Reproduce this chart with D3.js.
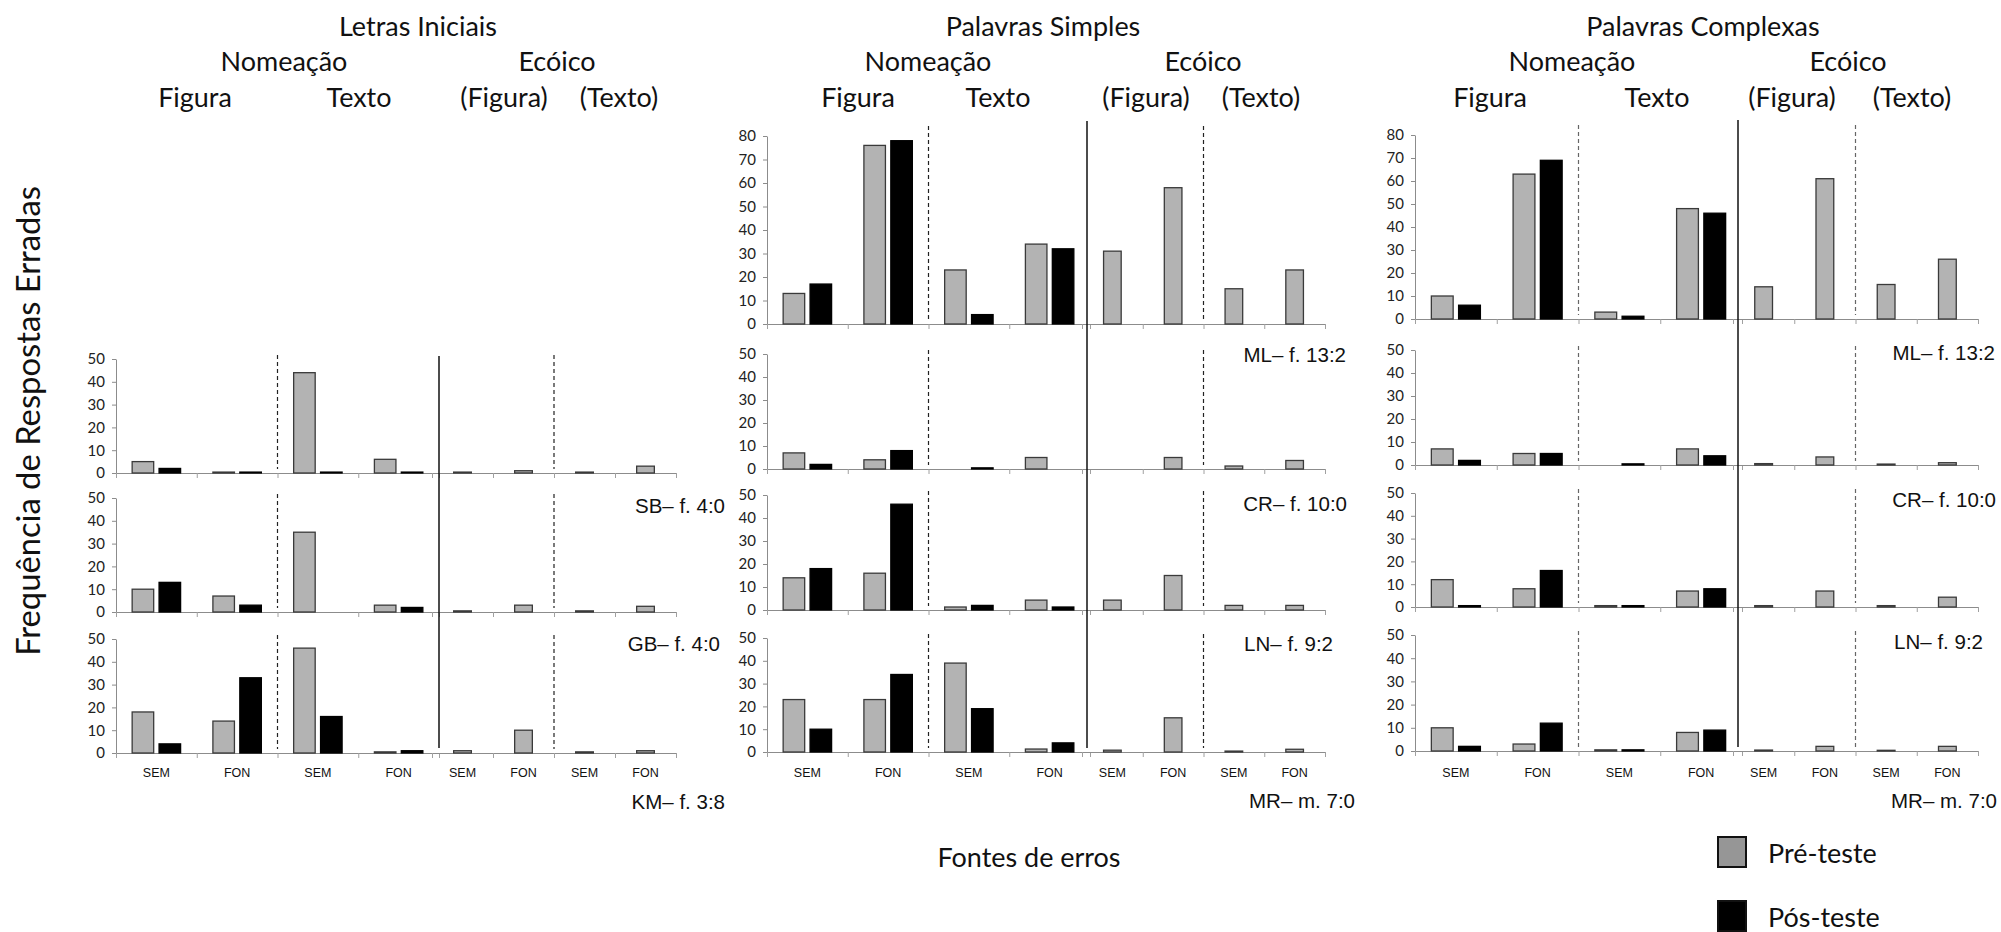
<!DOCTYPE html>
<html><head><meta charset="utf-8">
<script src="https://cdn.jsdelivr.net/npm/d3@7"></script>
<style>body{margin:0;background:#fff}svg{display:block}</style>
</head><body>
<svg id="c" width="2001" height="932"></svg>
<script>
// ---------- DATA ----------
const nomCats = ["SEM", "FON", "SEM", "FON"];   // Nomeação: Figura SEM/FON, Texto SEM/FON
const ecoCats = ["SEM", "FON", "SEM", "FON"];   // Ecóico: (Figura) SEM/FON, (Texto) SEM/FON
const series = ["Pré-teste", "Pós-teste"];
const panelTitles = ["Letras Iniciais", "Palavras Simples", "Palavras Complexas"];
const groupTitles = ["Nomeação", "Ecóico"];
const subTitles = ["Figura", "Texto", "(Figura)", "(Texto)"];
const xTitle = "Fontes de erros";
const yTitle = "Frequência de Respostas Erradas";

// Letras Iniciais
const LI_SB_pre = [5, 0.4, 44, 6];
const LI_SB_pos = [2, 0.4, 0.4, 0.4];
const LI_SB_eco = [0.4, 1, 0.4, 3];
const LI_GB_pre = [10, 7, 35, 3];
const LI_GB_pos = [13, 3, 0, 2];
const LI_GB_eco = [0.5, 3, 0.5, 2.5];
const LI_KM_pre = [18, 14, 46, 0.5];
const LI_KM_pos = [4, 33, 16, 1];
const LI_KM_eco = [1, 10, 0.5, 1];
// Palavras Simples
const PS_ML_pre = [13, 76, 23, 34];
const PS_ML_pos = [17, 78, 4, 32];
const PS_ML_eco = [31, 58, 15, 23];
const PS_CR_pre = [7, 4, 0, 5];
const PS_CR_pos = [2, 8, 0.5, 0];
const PS_CR_eco = [0, 5, 1.3, 3.7];
const PS_LN_pre = [14, 16, 1.3, 4.3];
const PS_LN_pos = [18, 46, 2, 1.3];
const PS_LN_eco = [4.3, 15, 2, 2];
const PS_MR_pre = [23, 23, 39, 1.3];
const PS_MR_pos = [10, 34, 19, 4];
const PS_MR_eco = [0.8, 15, 0.4, 1.2];
// Palavras Complexas
const PC_ML_pre = [10, 63, 3, 48];
const PC_ML_pos = [6, 69, 1.2, 46];
const PC_ML_eco = [14, 61, 15, 26];
const PC_CR_pre = [7, 5, 0, 7];
const PC_CR_pos = [2, 5, 0.5, 4];
const PC_CR_eco = [0.6, 3.5, 0.4, 1];
const PC_LN_pre = [12, 8, 0.6, 7];
const PC_LN_pos = [0.6, 16, 0.6, 8];
const PC_LN_eco = [0.6, 7, 0.6, 4.3];
const PC_MR_pre = [10, 3, 0.5, 8];
const PC_MR_pos = [2, 12, 0.5, 9];
const PC_MR_eco = [0.4, 2, 0.3, 2];

// ---------- LAYOUT ----------
const panels = [
  { x0: 116, nomEnd: 439, eco0: 432, eco1: 676, solid: [439, 356, 748], dash: "#222",
    heads: [[418, 25], [284, 60], [557, 60], [195, 96], [359, 96], [504, 96], [619, 96]],
    rows: [
      { max: 50, top: 359, zero: 473, label: "SB– f. 4:0", lx: 725, ly: 505, pre: LI_SB_pre, pos: LI_SB_pos, eco: LI_SB_eco },
      { max: 50, top: 498, zero: 612, label: "GB– f. 4:0", lx: 720, ly: 643, pre: LI_GB_pre, pos: LI_GB_pos, eco: LI_GB_eco },
      { max: 50, top: 639, zero: 753, label: "KM– f. 3:8", lx: 725, ly: 801, pre: LI_KM_pre, pos: LI_KM_pos, eco: LI_KM_eco }
    ] },
  { x0: 767, nomEnd: 1090, eco0: 1082, eco1: 1325, solid: [1087, 121, 748], dash: "#222",
    heads: [[1043, 25], [928, 60], [1203, 60], [858, 96], [998, 96], [1146, 96], [1261, 96]],
    rows: [
      { max: 80, top: 136, zero: 324, label: "ML– f. 13:2", lx: 1346, ly: 354, pre: PS_ML_pre, pos: PS_ML_pos, eco: PS_ML_eco },
      { max: 50, top: 354, zero: 469, label: "CR– f. 10:0", lx: 1347, ly: 503, pre: PS_CR_pre, pos: PS_CR_pos, eco: PS_CR_eco },
      { max: 50, top: 495, zero: 610, label: "LN– f. 9:2", lx: 1333, ly: 643, pre: PS_LN_pre, pos: PS_LN_pos, eco: PS_LN_eco },
      { max: 50, top: 638, zero: 752, label: "MR– m. 7:0", lx: 1355, ly: 800, pre: PS_MR_pre, pos: PS_MR_pos, eco: PS_MR_eco }
    ] },
  { x0: 1415, nomEnd: 1742, eco0: 1733, eco1: 1978, solid: [1738, 120, 747], dash: "#666",
    heads: [[1703, 25], [1572, 60], [1848, 60], [1490, 96], [1657, 96], [1792, 96], [1912, 96]],
    rows: [
      { max: 80, top: 135, zero: 319, label: "ML– f. 13:2", lx: 1995, ly: 352, pre: PC_ML_pre, pos: PC_ML_pos, eco: PC_ML_eco },
      { max: 50, top: 350, zero: 465, label: "CR– f. 10:0", lx: 1996, ly: 499, pre: PC_CR_pre, pos: PC_CR_pos, eco: PC_CR_eco },
      { max: 50, top: 493, zero: 607, label: "LN– f. 9:2", lx: 1983, ly: 641, pre: PC_LN_pre, pos: PC_LN_pos, eco: PC_LN_eco },
      { max: 50, top: 635, zero: 751, label: "MR– m. 7:0", lx: 1997, ly: 800, pre: PC_MR_pre, pos: PC_MR_pos, eco: PC_MR_eco }
    ] }
];

const BIG = "Lato, 'Open Sans', sans-serif";
const ARIAL = "'Liberation Sans', Arial, sans-serif";
const fillOf = { "Pré-teste": "#b3b3b3", "Pós-teste": "#000000" };
const strokeOf = { "Pré-teste": "#3a3a3a", "Pós-teste": "#000000" };

const svg = d3.select("#c");

function fitSize(text, target, family) {
  const t = svg.append("text").attr("font-family", family).attr("font-size", 100).text(text);
  const w = t.node().getComputedTextLength();
  t.remove();
  return 100 * target / w;
}
const bigSize = fitSize(panelTitles[0], 158, BIG);

const headTexts = (i) => [panelTitles[i], groupTitles[0], groupTitles[1], ...subTitles];

panels.forEach((p, pi) => {
  const g = svg.append("g");
  // headers
  headTexts(pi).forEach((t, k) => {
    g.append("text").attr("x", p.heads[k][0]).attr("y", p.heads[k][1])
      .attr("text-anchor", "middle").attr("dominant-baseline", "central")
      .attr("font-family", BIG).attr("font-size", bigSize).attr("fill", "#111").text(t);
  });

  const xN = d3.scaleBand().domain(d3.range(nomCats.length)).range([p.x0, p.nomEnd]).paddingInner(0.4).paddingOuter(0.2);
  const xS = d3.scaleBand().domain(series).range([0, xN.bandwidth()]).paddingInner(0.2);
  const xE = d3.scaleBand().domain(d3.range(ecoCats.length)).range([p.eco0, p.eco1]).paddingInner(0.71).paddingOuter(0.355);
  const xNb = d3.scaleLinear().domain([0, nomCats.length]).range([p.x0, p.nomEnd]);
  const xEb = d3.scaleLinear().domain([0, ecoCats.length]).range([p.eco0, p.eco1]);

  p.rows.forEach((r, ri) => {
    const y = d3.scaleLinear().domain([0, r.max]).range([r.zero, r.top]);
    const rg = g.append("g");

    // y axis
    const ya = rg.append("g").attr("transform", `translate(${p.x0},0)`)
      .call(d3.axisLeft(y).tickValues(d3.range(0, r.max + 1, 10)).tickSize(4).tickPadding(7).tickSizeOuter(0));
    ya.select(".domain").attr("stroke", "#8c8c8c");
    ya.selectAll(".tick line").attr("stroke", "#8c8c8c");
    ya.selectAll(".tick text").attr("font-family", BIG).attr("font-size", 15).attr("fill", "#222");

    // x axes (boundaries)
    [[xNb, nomCats.length], [xEb, ecoCats.length]].forEach(([sc, n]) => {
      const xa = rg.append("g").attr("transform", `translate(0,${r.zero})`)
        .call(d3.axisBottom(sc).tickValues(d3.range(0, n + 1)).tickFormat("").tickSize(5).tickSizeOuter(0));
      xa.select(".domain").attr("stroke", "#8c8c8c");
      xa.selectAll(".tick line").attr("stroke", "#a0a0a0");
    });

    // dashed separators
    const dTop = r.top - (r.max > 50 ? 10 : 4);
    [xNb(2), xEb(2)].forEach(xx => {
      rg.append("line").attr("x1", xx).attr("x2", xx).attr("y1", dTop).attr("y2", r.zero - 4)
        .attr("stroke", p.dash).attr("stroke-width", 1.2).attr("stroke-dasharray", "4,3");
    });

    // nomeação bars
    const nomData = [];
    nomCats.forEach((c, i) => {
      nomData.push({ i, s: series[0], v: r.pre[i] });
      nomData.push({ i, s: series[1], v: r.pos[i] });
    });
    rg.selectAll("rect.nb").data(nomData.filter(d => d.v > 0)).join("rect").attr("class", "nb")
      .attr("x", d => xN(d.i) + xS(d.s)).attr("width", xS.bandwidth())
      .attr("y", d => y(d.v)).attr("height", d => r.zero - y(d.v))
      .attr("fill", d => fillOf[d.s]).attr("stroke", d => strokeOf[d.s]).attr("stroke-width", 1.3);

    // ecóico bars (pré-teste only)
    rg.selectAll("rect.eb").data(r.eco.map((v, i) => ({ i, v })).filter(d => d.v > 0)).join("rect").attr("class", "eb")
      .attr("x", d => xE(d.i)).attr("width", xE.bandwidth())
      .attr("y", d => y(d.v)).attr("height", d => r.zero - y(d.v))
      .attr("fill", fillOf[series[0]]).attr("stroke", strokeOf[series[0]]).attr("stroke-width", 1.3);

    // subject label
    rg.append("text").attr("x", r.lx).attr("y", r.ly).attr("text-anchor", "end").attr("dominant-baseline", "central")
      .attr("font-family", ARIAL).attr("font-size", 20.5).attr("fill", "#111").text(r.label);

    // category labels for the bottom row
    if (ri === p.rows.length - 1) {
      nomCats.forEach((c, i) => {
        rg.append("text").attr("x", xN(i) + xN.bandwidth() / 2).attr("y", 773)
          .attr("text-anchor", "middle").attr("dominant-baseline", "central")
          .attr("font-family", ARIAL).attr("font-size", 12.5).attr("fill", "#111").text(c);
      });
      ecoCats.forEach((c, i) => {
        rg.append("text").attr("x", xE(i) + xE.bandwidth() / 2).attr("y", 773)
          .attr("text-anchor", "middle").attr("dominant-baseline", "central")
          .attr("font-family", ARIAL).attr("font-size", 12.5).attr("fill", "#111").text(c);
      });
    }
  });

  // solid separator between Nomeação and Ecóico
  g.append("line").attr("x1", p.solid[0]).attr("x2", p.solid[0]).attr("y1", p.solid[1]).attr("y2", p.solid[2])
    .attr("stroke", "#111").attr("stroke-width", 1.5);
});

// axis titles
svg.append("text").attr("transform", "translate(27,421) rotate(-90)")
  .attr("text-anchor", "middle").attr("dominant-baseline", "central")
  .attr("font-family", BIG).attr("font-size", fitSize(yTitle, 470, BIG)).attr("fill", "#111").text(yTitle);
svg.append("text").attr("x", 1029).attr("y", 856).attr("text-anchor", "middle").attr("dominant-baseline", "central")
  .attr("font-family", BIG).attr("font-size", bigSize).attr("fill", "#111").text(xTitle);

// legend
const legFill = { "Pré-teste": "#969696", "Pós-teste": "#000000" };
const legY = { "Pré-teste": 852, "Pós-teste": 916 };
series.forEach(s => {
  svg.append("rect").attr("x", 1718).attr("y", legY[s] - 15).attr("width", 28).attr("height", 30)
    .attr("fill", legFill[s]).attr("stroke", "#111").attr("stroke-width", 2);
  svg.append("text").attr("x", 1768).attr("y", legY[s]).attr("dominant-baseline", "central")
    .attr("font-family", BIG).attr("font-size", bigSize).attr("fill", "#111").text(s);
});
</script>
</body></html>
